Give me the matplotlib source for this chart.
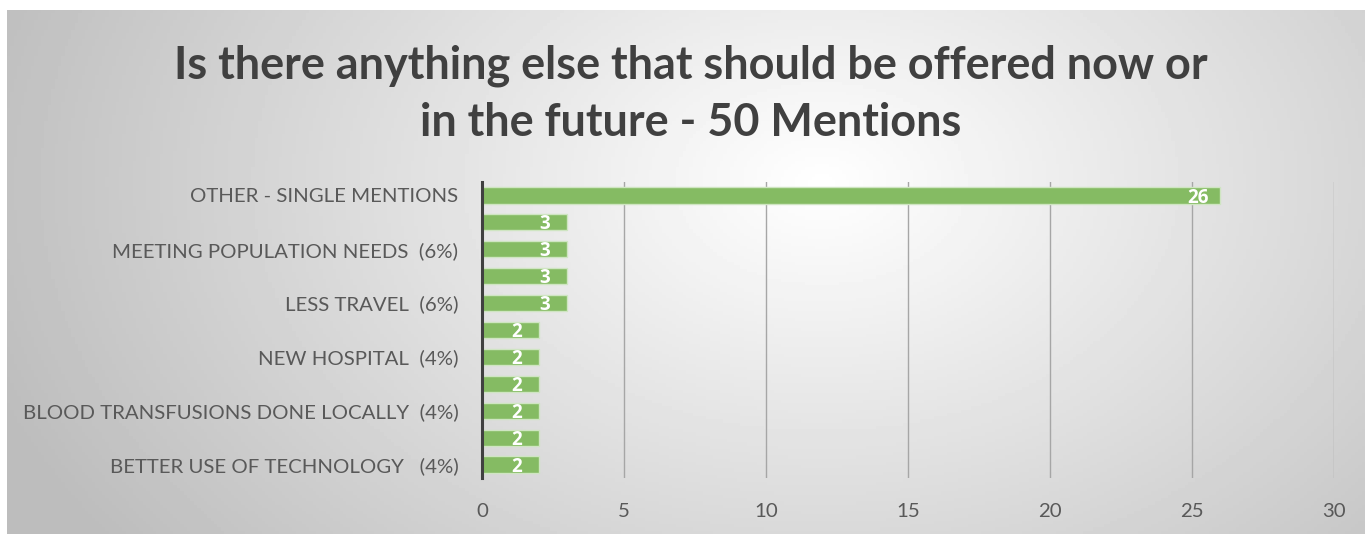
import numpy as np
import matplotlib.pyplot as plt

# bottom to top; only every other category label is shown on the axis
categories = ['BETTER USE OF TECHNOLOGY   (4%)', '', 'BLOOD TRANSFUSIONS DONE LOCALLY  (4%)', '',
              'NEW HOSPITAL  (4%)', '', 'LESS TRAVEL  (6%)', '', 'MEETING POPULATION NEEDS  (6%)', '',
              'OTHER - SINGLE MENTIONS']
mentions = [2, 2, 2, 2, 2, 2, 3, 3, 3, 3, 26]
xticks = [0, 5, 10, 15, 20, 25, 30]

plt.rcParams['font.family'] = ['Lato', 'DejaVu Sans']

fig = plt.figure(figsize=(13.65, 5.34), dpi=100)
fig.patch.set_facecolor('white')

# grey radial-ish backdrop, lightest near the upper middle
bg = fig.add_axes([7 / 1365, 0, 1 - 7 / 1365, 1 - 10 / 534])
gx, gy = np.meshgrid(np.linspace(0, 1, 400), np.linspace(0, 1, 160))
d = np.sqrt(((gx - 0.6) / 0.5) ** 2 + ((gy - 0.33) / 0.9) ** 2)
shade = np.clip(1.0 - 0.2 * d, 0.74, 1.0)
bg.imshow(shade, cmap='gray', vmin=0, vmax=1, aspect='auto', extent=[0, 1, 0, 1], origin='upper')
bg.set_axis_off()

ax = fig.add_axes([482 / 1365, (534 - 478) / 534, (1334 - 482) / 1365, (478 - 182) / 534])
ax.patch.set_alpha(0)
y = np.arange(len(mentions))
bars = ax.barh(y, mentions, height=0.6, color='#85bb63', edgecolor='#cfe5c2', linewidth=1, zorder=3)
for yi, v in zip(y, mentions):
    ax.annotate(str(v), (v, yi), xytext=(-16, -1.5), textcoords='offset points',
                ha='center', va='center', color='white', fontsize=13.5, fontweight='bold',
                family=['Open Sans', 'DejaVu Sans'], zorder=4)

ax.set_xlim(0, 30)
ax.set_ylim(-0.5, len(mentions) - 0.5)
ax.set_xticks(xticks)
ax.set_yticks(y)
ax.set_yticklabels(categories)
ax.tick_params(length=0, labelsize=14.7, colors='#595959')
ax.tick_params(axis='y', pad=17)
ax.tick_params(axis='x', pad=18)
ax.grid(axis='x', color='#a6a6a6', linewidth=1, zorder=0)
for s in ['top', 'right', 'bottom']:
    ax.spines[s].set_visible(False)
ax.spines['left'].set_color('#404040')
ax.spines['left'].set_linewidth(2.2)
ax.spines['left'].set_zorder(5)

fig.text(0.506, 0.824, 'Is there anything else that should be offered now or\nin the future - 50 Mentions',
         ha='center', va='center', fontsize=32.4, fontweight='bold', color='#404040', linespacing=1.45)

fig.savefig('out.png', dpi=100, facecolor=fig.get_facecolor())
